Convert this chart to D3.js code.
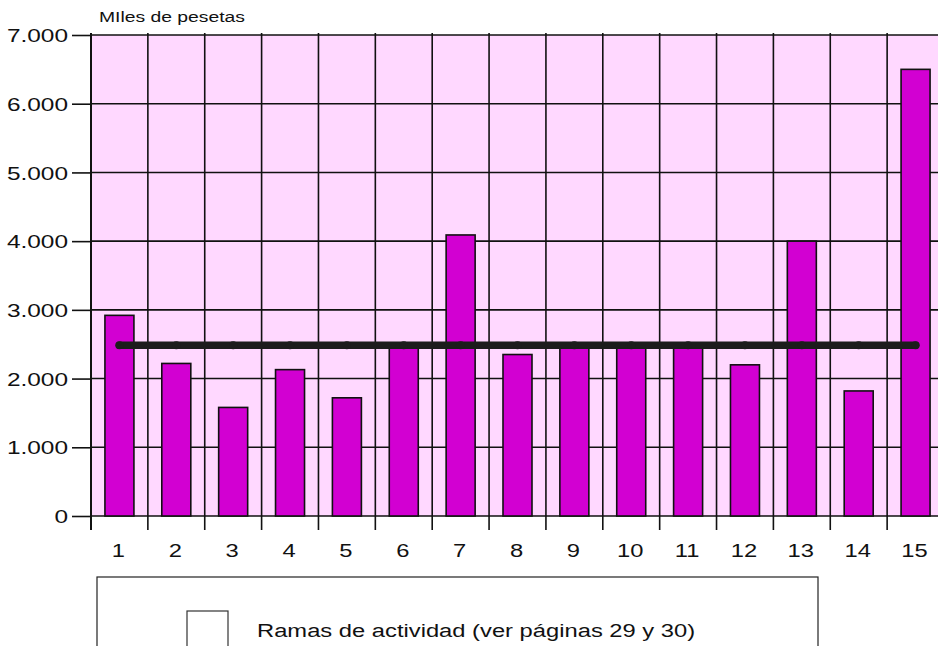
<!DOCTYPE html>
<html lang="es">
<head>
<meta charset="utf-8">
<title>Ramas de actividad</title>
<script src="https://cdn.jsdelivr.net/npm/d3@7"></script>
<style>
  body { margin: 0; background: #fff; }
  svg { display: block; font-family: "Liberation Sans", Arial, sans-serif; }
</style>
</head>
<body>
<svg id="chart"></svg>
<script>
// datos
var ramas = ["1","2","3","4","5","6","7","8","9","10","11","12","13","14","15"];
var valores = [2920, 2220, 1580, 2130, 1720, 2490, 4090, 2350, 2490, 2490, 2480, 2200, 4000, 1820, 6500];
var media = [2485, 2485, 2485, 2485, 2485, 2485, 2485, 2485, 2485, 2485, 2485, 2485, 2485, 2485, 2485];
var yTicks = [0, 1000, 2000, 3000, 4000, 5000, 6000, 7000];

var width = 938, height = 646;
var sx = 1.32; // el texto original esta estirado en horizontal

var svg = d3.select("#chart")
    .attr("width", width)
    .attr("height", height);

var x = d3.scaleBand()
    .domain(ramas)
    .range([91, 944]);

var y = d3.scaleLinear()
    .domain([0, 7000])
    .range([516, 35]);

var es = d3.formatLocale({decimal: ",", thousands: ".", grouping: [3], currency: ["", ""]});
var fmt = es.format(",");

// fondo
svg.append("rect")
    .attr("x", x.range()[0])
    .attr("y", y(7000))
    .attr("width", x.range()[1] - x.range()[0])
    .attr("height", y(0) - y(7000))
    .attr("fill", "#ffd8ff");

// rejilla horizontal
svg.selectAll(".hgrid")
    .data(yTicks)
    .enter()
    .append("line")
    .attr("class", "hgrid")
    .attr("x1", x.range()[0])
    .attr("x2", width)
    .attr("y1", d => y(d))
    .attr("y2", d => y(d))
    .attr("stroke", "#111")
    .attr("stroke-width", 1.6);

// rejilla vertical (limites de cada rama)
var limites = ramas.map(d => x(d));
svg.selectAll(".vgrid")
    .data(limites)
    .enter()
    .append("line")
    .attr("class", "vgrid")
    .attr("x1", d => d)
    .attr("x2", d => d)
    .attr("y1", y(7000) - 2)
    .attr("y2", y(0) + 14)
    .attr("stroke", "#111")
    .attr("stroke-width", d => d === x.range()[0] ? 2 : 1.6);

// barras
var bw = x.bandwidth() * 0.51;
svg.selectAll(".bar")
    .data(valores)
    .enter()
    .append("rect")
    .attr("class", "bar")
    .attr("x", (d, i) => x(ramas[i]) + (x.bandwidth() - bw) / 2)
    .attr("y", d => y(d))
    .attr("width", bw)
    .attr("height", d => y(0) - y(d))
    .attr("fill", "#d200d2")
    .attr("stroke", "#111")
    .attr("stroke-width", 1.6);

// linea media
var line = d3.line()
    .x((d, i) => x(ramas[i]) + x.bandwidth() / 2)
    .y(d => y(d));

svg.append("path")
    .datum(media)
    .attr("d", line)
    .attr("fill", "none")
    .attr("stroke", "#1c1c1c")
    .attr("stroke-width", 7.5)
    .attr("stroke-linecap", "round");

svg.selectAll(".dot")
    .data(media)
    .enter()
    .append("circle")
    .attr("class", "dot")
    .attr("cx", (d, i) => x(ramas[i]) + x.bandwidth() / 2)
    .attr("cy", d => y(d))
    .attr("r", 4.1)
    .attr("fill", "#1c1c1c");

// eje y
var yAxis = svg.append("g")
    .attr("transform", "translate(" + x.range()[0] + ",0)")
    .call(d3.axisLeft(y).tickValues(yTicks).tickSize(19).tickFormat(fmt));

yAxis.select(".domain").remove();
yAxis.selectAll(".tick line").attr("stroke", "#111").attr("stroke-width", 1.6);
yAxis.selectAll(".tick text")
    .attr("x", -23 / sx)
    .attr("dy", "0.36em")
    .attr("transform", "scale(" + sx + ",1)")
    .attr("fill", "#111")
    .style("font-size", "18.5px");

// eje x
var xAxis = svg.append("g")
    .attr("transform", "translate(0," + y(0) + ")")
    .call(d3.axisBottom(x).tickSize(0).tickPadding(0));

xAxis.select(".domain").remove();
xAxis.selectAll(".tick text")
    .attr("y", 41)
    .attr("dy", 0)
    .attr("transform", "scale(" + sx + ",1)")
    .attr("x", 0)
    .attr("fill", "#111")
    .style("font-size", "18px");
// el escalado desplaza el texto; se corrige moviendo el grupo de cada tick
xAxis.selectAll(".tick")
    .each(function(d) {
        var cx = x(d) + x.bandwidth() / 2 - 1;
        d3.select(this).attr("transform", "translate(" + cx + ",0)");
    });

// titulo del eje
svg.append("text")
    .attr("transform", "translate(99,22) scale(1.38,1)")
    .attr("fill", "#111")
    .style("font-size", "14px")
    .text("MIles de pesetas");

// leyenda
svg.append("rect")
    .attr("x", 97)
    .attr("y", 577)
    .attr("width", 721)
    .attr("height", 100)
    .attr("fill", "#fff")
    .attr("stroke", "#222")
    .attr("stroke-width", 1.2);

svg.append("rect")
    .attr("x", 187)
    .attr("y", 611)
    .attr("width", 41)
    .attr("height", 60)
    .attr("fill", "#fff")
    .attr("stroke", "#333")
    .attr("stroke-width", 1.2);

svg.append("text")
    .attr("transform", "translate(257,637) scale(" + sx + ",1)")
    .attr("fill", "#111")
    .style("font-size", "18px")
    .text("Ramas de actividad (ver páginas 29 y 30)");
</script>
</body>
</html>
